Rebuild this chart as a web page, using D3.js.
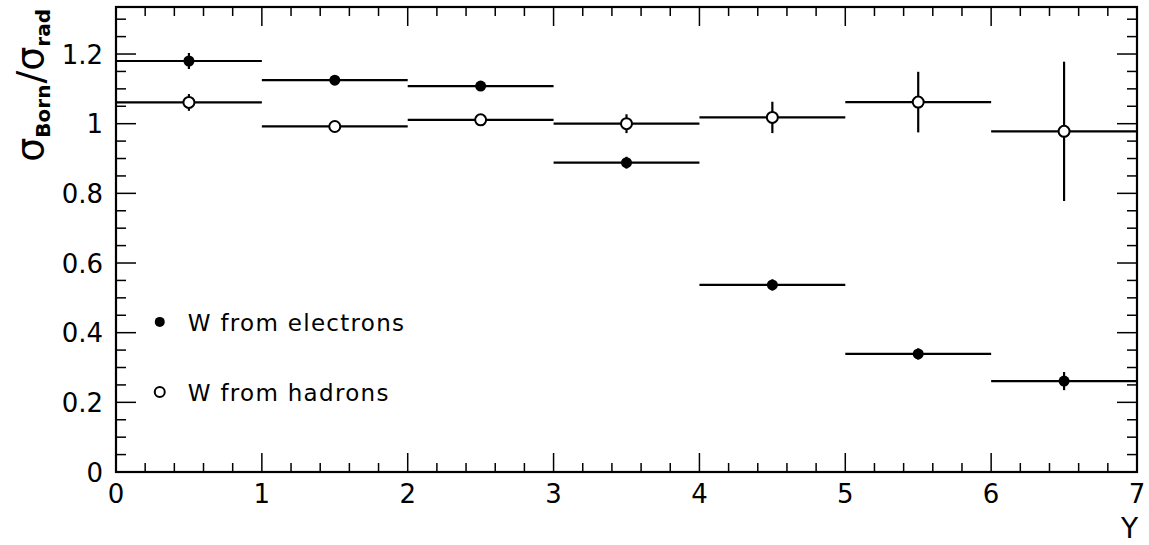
<!DOCTYPE html>
<html>
<head>
<meta charset="utf-8">
<script src="https://cdn.jsdelivr.net/npm/d3@7"></script>
<style>
  body { margin: 0; background: #fff; }
  text { font-family: "DejaVu Sans", sans-serif; fill: #000; }
</style>
</head>
<body>
<div></div>
<script>
var width = 1149;
var height = 545;
var margin = { top: 7, right: 12, bottom: 73, left: 116 };

// bins in Y (rapidity), one value per bin
var binLow = [0, 1, 2, 3, 4, 5, 6];
var binHigh = [1, 2, 3, 4, 5, 6, 7];
var electronVals = [1.18, 1.125, 1.108, 0.888, 0.537, 0.339, 0.261];
var electronErrs = [0.023, 0.01, 0.012, 0.017, 0.016, 0.016, 0.026];
var hadronVals = [1.061, 0.992, 1.011, 1.0, 1.018, 1.062, 0.978];
var hadronErrs = [0.024, 0.012, 0.012, 0.027, 0.045, 0.087, 0.2];
var xTicks = [0, 1, 2, 3, 4, 5, 6, 7];
var yTicks = [0, 0.2, 0.4, 0.6, 0.8, 1, 1.2];
var legendNames = ["W from electrons", "W from hadrons"];

const svg = d3.select("div")
  .append("svg")
  .attr("width", width)
  .attr("height", height);

var x = d3.scaleLinear()
  .domain([0, 7])
  .range([margin.left, width - margin.right]);

var y = d3.scaleLinear()
  .domain([0, 1.335])
  .range([height - margin.bottom, margin.top]);

var x0 = x.range()[0], x1 = x.range()[1];
var yb = y.range()[0], yt = y.range()[1];

// minor ticks
var xMinor = d3.range(0, 7.0001, 0.2).filter((d) => Math.abs(d - Math.round(d)) > 1e-6);
var yMinor = d3.range(0, 1.335, 0.05).filter((d) => Math.abs(d * 5 - Math.round(d * 5)) > 1e-6);

var ticks = svg.append("g").attr("stroke", "#000").attr("stroke-width", 1.5);

// bottom and top ticks
[[xTicks, 19], [xMinor, 9]].forEach(([vals, len]) => {
  ticks.append("g").selectAll("line").data(vals).join("line")
    .attr("x1", (d) => x(d)).attr("x2", (d) => x(d))
    .attr("y1", yb).attr("y2", yb - len);
  ticks.append("g").selectAll("line").data(vals).join("line")
    .attr("x1", (d) => x(d)).attr("x2", (d) => x(d))
    .attr("y1", yt).attr("y2", yt + len);
});

// left and right ticks
[[yTicks, 20], [yMinor, 10]].forEach(([vals, len]) => {
  ticks.append("g").selectAll("line").data(vals).join("line")
    .attr("y1", (d) => y(d)).attr("y2", (d) => y(d))
    .attr("x1", x0).attr("x2", x0 + len);
  ticks.append("g").selectAll("line").data(vals).join("line")
    .attr("y1", (d) => y(d)).attr("y2", (d) => y(d))
    .attr("x1", x1).attr("x2", x1 - len);
});

// frame
svg.append("rect")
  .attr("x", x0).attr("y", yt)
  .attr("width", x1 - x0).attr("height", yb - yt)
  .attr("fill", "none").attr("stroke", "#000").attr("stroke-width", 2.2);

// tick labels
svg.append("g").selectAll("text").data(xTicks).join("text")
  .attr("x", (d) => x(d)).attr("y", yb + 31)
  .attr("text-anchor", "middle")
  .attr("font-size", 26)
  .text((d) => d);

svg.append("g").selectAll("text").data(yTicks).join("text")
  .attr("x", x0 - 13).attr("y", (d) => y(d) + 9.5)
  .attr("text-anchor", "end")
  .attr("font-size", 26)
  .text((d) => d3.format("")(d));

// axis titles
svg.append("text")
  .attr("x", x1 + 1).attr("y", 538)
  .attr("text-anchor", "end")
  .attr("font-size", 28)
  .text("Y");

var yTitle = svg.append("text")
  .attr("transform", `translate(43, ${yt + 2}) rotate(-90)`)
  .attr("text-anchor", "end")
  .attr("font-size", 38);
yTitle.append("tspan").text("σ");
yTitle.append("tspan").attr("dy", 7).attr("font-size", 20).attr("font-weight", "bold").text("Born");
yTitle.append("tspan").attr("dy", -7).attr("font-size", 38).attr("dx", 1).text("/");
yTitle.append("tspan").text("σ");
yTitle.append("tspan").attr("dy", 7).attr("font-size", 20).attr("font-weight", "bold").text("rad");

// data series
function drawSeries(vals, errs, filled) {
  var g = svg.append("g").attr("stroke", "#000").attr("stroke-width", 2.2);
  var rows = vals.map((v, i) => ({ lo: binLow[i], hi: binHigh[i], v: v, e: errs[i] }));
  g.selectAll(".h").data(rows).join("line")
    .attr("x1", (d) => x(d.lo)).attr("x2", (d) => x(d.hi))
    .attr("y1", (d) => y(d.v)).attr("y2", (d) => y(d.v));
  g.selectAll(".v").data(rows).join("line")
    .attr("x1", (d) => x((d.lo + d.hi) / 2)).attr("x2", (d) => x((d.lo + d.hi) / 2))
    .attr("y1", (d) => y(d.v - d.e)).attr("y2", (d) => y(d.v + d.e));
  g.selectAll("circle").data(rows).join("circle")
    .attr("cx", (d) => x((d.lo + d.hi) / 2))
    .attr("cy", (d) => y(d.v))
    .attr("r", 5.5)
    .attr("fill", filled ? "#000" : "#fff")
    .attr("stroke-width", filled ? 0 : 2);
}
drawSeries(hadronVals, hadronErrs, false);
drawSeries(electronVals, electronErrs, true);

// legend
var legendY = [0.431, 0.23];
legendNames.forEach((name, i) => {
  svg.append("circle")
    .attr("cx", x(0.3)).attr("cy", y(legendY[i]))
    .attr("r", 5)
    .attr("fill", i === 0 ? "#000" : "#fff")
    .attr("stroke", "#000").attr("stroke-width", i === 0 ? 0 : 2);
  svg.append("text")
    .attr("x", x(0.3) + 28).attr("y", y(legendY[i]) + 9)
    .attr("font-size", 23)
    .attr("letter-spacing", 1.3)
    .text(name);
});
</script>
</body>
</html>
